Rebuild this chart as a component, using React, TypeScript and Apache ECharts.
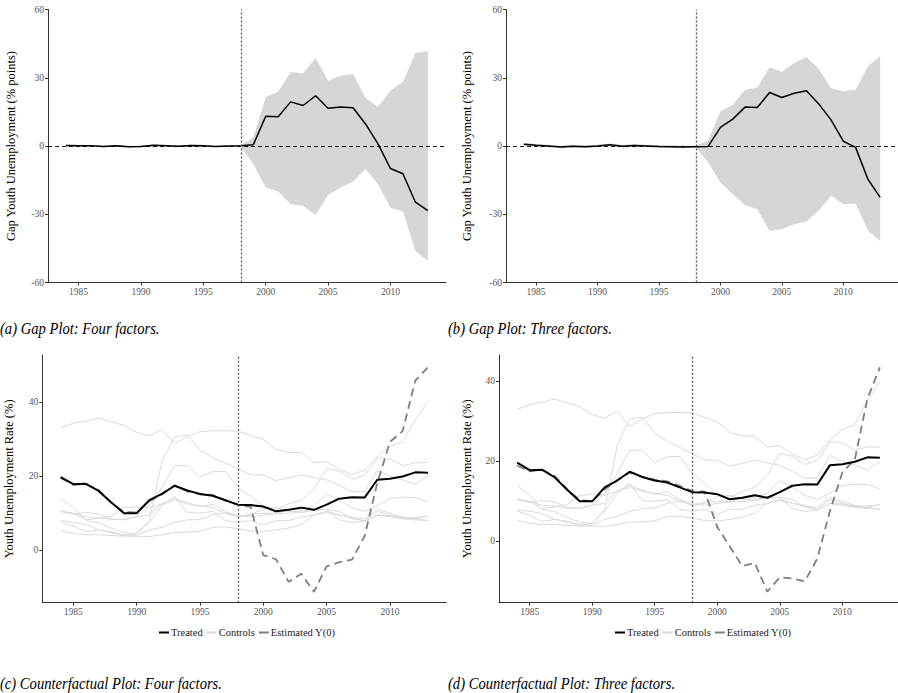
import React, { useEffect, useRef } from "react";
import * as echarts from "echarts";

const years = [1984, 1985, 1986, 1987, 1988, 1989, 1990, 1991, 1992, 1993, 1994, 1995, 1996, 1997, 1998, 1999, 2000, 2001, 2002, 2003, 2004, 2005, 2006, 2007, 2008, 2009, 2010, 2011, 2012, 2013];
const yearTicks = [1985, 1990, 1995, 2000, 2005, 2010];
const gapTicks = [-60, -30, 0, 30, 60];
const rateTicks = [0, 20, 40];

// Panel (a): four factors
const gapA = [0.2, 0.1, 0.1, -0.2, 0.1, -0.3, -0.2, 0.3, 0.1, -0.1, 0.2, 0.1, -0.2, 0.0, 0.1, 0.5, 13.1, 12.9, 19.4, 17.8, 22.1, 16.6, 17.1, 16.8, 9.7, 0.9, -9.9, -12.2, -24.7, -28.4];
const upperA = [0.6, 0.5, 0.5, 0.2, 0.5, 0.1, 0.2, 0.7, 0.5, 0.3, 0.6, 0.5, 0.2, 0.4, 0.3, 3.8, 21.5, 23.8, 32.5, 31.9, 38.8, 28.7, 30.9, 31.6, 21.2, 17.1, 24.4, 28.1, 40.9, 41.8];
const lowerA = [-0.2, -0.3, -0.3, -0.6, -0.3, -0.7, -0.6, -0.1, -0.3, -0.5, -0.2, -0.3, -0.6, -0.4, -0.3, -7.9, -18.2, -20.0, -25.6, -26.3, -30.4, -21.5, -18.2, -15.7, -10.1, -16.8, -27.1, -28.8, -46.2, -50.6];

// Panel (b): three factors
const gapB = [0.8, 0.3, 0.0, -0.4, -0.1, -0.3, 0.0, 0.5, -0.1, 0.2, 0.0, -0.2, -0.3, -0.4, -0.3, -0.2, 8.2, 11.8, 17.1, 16.9, 23.5, 21.3, 23.2, 24.3, 18.5, 11.5, 2.1, -0.6, -14.6, -22.6];
const upperB = [1.4, 0.9, 0.6, 0.2, 0.5, 0.3, 0.6, 1.1, 0.5, 0.8, 0.6, 0.4, 0.3, 0.2, 0.2, 2.4, 15.3, 18.1, 24.7, 25.6, 34.7, 32.5, 36.5, 39.1, 34.0, 25.4, 24.1, 24.7, 35.1, 39.4];
const lowerB = [0.2, -0.3, -0.6, -1.0, -0.7, -0.9, -0.6, -0.1, -0.7, -0.4, -0.6, -0.8, -0.9, -1.0, -0.6, -7.2, -16.0, -21.2, -25.9, -27.8, -37.4, -36.6, -34.4, -33.2, -28.5, -21.9, -25.6, -25.3, -37.1, -41.8];

// Panels (c) and (d)
const treated = [19.7, 17.8, 17.9, 16.0, 12.9, 10.0, 10.0, 13.5, 15.2, 17.4, 16.1, 15.2, 14.7, 13.5, 12.3, 12.2, 11.8, 10.5, 10.9, 11.5, 10.9, 12.3, 13.9, 14.3, 14.2, 19.0, 19.3, 19.9, 21.0, 20.9];
const y0Four = [19.5, 17.7, 17.8, 16.2, 12.8, 10.3, 10.2, 13.2, 15.1, 17.5, 15.9, 15.1, 14.9, 13.5, 12.2, 11.7, -1.3, -2.4, -8.5, -6.3, -11.2, -4.3, -3.2, -2.5, 3.8, 18.1, 29.2, 32.1, 45.7, 49.3];
const y0Three = [18.9, 17.5, 17.9, 16.4, 13.0, 10.3, 10.0, 13.0, 15.3, 17.2, 16.1, 15.4, 15.0, 13.9, 12.6, 12.4, 3.6, -1.3, -6.2, -5.4, -12.6, -9.0, -9.3, -10.0, -4.3, 7.5, 17.2, 20.5, 35.6, 43.5];

const control1 = [33.0, 34.2, 34.8, 35.6, 34.6, 33.7, 31.7, 30.8, 32.6, 28.8, 30.6, 32.0, 32.2, 32.2, 32.1, 31.0, 29.9, 27.2, 26.4, 26.3, 23.6, 23.9, 21.8, 20.4, 21.6, 25.4, 28.0, 29.2, 35.2, 40.0];
const control2 = [14.0, 11.5, 8.0, 7.4, 6.0, 4.8, 4.5, 8.0, 24.0, 30.6, 31.0, 27.0, 25.0, 23.5, 22.0, 20.3, 20.3, 18.8, 19.5, 20.3, 19.6, 19.0, 17.5, 15.8, 15.8, 21.5, 20.0, 19.0, 17.8, 20.0];
const control3 = [10.6, 9.9, 9.0, 8.8, 8.3, 8.3, 9.0, 12.0, 17.0, 22.8, 22.8, 19.7, 21.2, 21.2, 17.0, 14.5, 11.8, 11.0, 12.5, 13.5, 16.5, 22.0, 21.3, 19.2, 20.2, 24.9, 24.7, 22.8, 23.6, 23.6];
const control4 = [10.6, 10.0, 8.2, 8.6, 9.2, 11.5, 11.7, 11.5, 12.5, 14.0, 12.8, 11.8, 12.4, 10.5, 9.0, 9.8, 10.0, 10.0, 10.8, 11.0, 12.0, 15.2, 13.5, 11.5, 10.5, 12.0, 14.0, 14.3, 14.2, 13.1];
const control5 = [8.0, 7.5, 7.0, 5.5, 4.8, 4.0, 4.5, 7.5, 12.0, 14.5, 10.2, 10.0, 10.5, 8.0, 7.5, 8.0, 6.8, 8.0, 8.0, 9.0, 9.5, 10.2, 9.5, 8.8, 8.5, 11.0, 10.0, 9.0, 8.5, 9.2];
const control6 = [7.6, 6.5, 5.0, 5.5, 5.0, 4.2, 4.0, 5.5, 6.2, 7.5, 8.2, 8.3, 9.5, 10.2, 9.5, 9.0, 9.5, 9.8, 10.0, 10.2, 10.8, 11.0, 8.2, 7.5, 7.8, 9.5, 9.3, 8.7, 8.5, 8.0];
const control7 = [10.4, 9.8, 10.2, 9.8, 8.5, 8.2, 9.0, 9.5, 12.5, 13.5, 12.5, 12.0, 11.5, 10.0, 9.0, 9.5, 11.2, 11.5, 10.5, 10.5, 11.0, 11.0, 10.5, 8.5, 8.0, 10.5, 9.5, 8.8, 8.8, 9.2];
const control8 = [5.2, 4.5, 4.2, 4.2, 4.0, 3.8, 3.8, 3.7, 4.2, 4.8, 4.9, 5.1, 6.2, 6.3, 5.8, 5.2, 5.1, 5.5, 6.0, 7.0, 9.5, 10.5, 9.5, 9.0, 7.8, 9.5, 9.0, 8.5, 8.2, 8.0];
const controls = [control1, control2, control3, control4, control5, control6, control7, control8];

const captions = [
  "(a) Gap Plot: Four factors.",
  "(b) Gap Plot: Three factors.",
  "(c) Counterfactual Plot: Four factors.",
  "(d) Counterfactual Plot: Three factors.",
];
const gapTitle = "Gap Youth Unemployment (% points)";
const rateTitle = "Youth Unemployment Rate (%)";

const FONT = "Liberation Serif";
const pts = (vals: number[]) => years.map((y, i) => [y, vals[i]]);

function xAxisCfg(gridIndex: number) {
  return {
    type: "value",
    gridIndex,
    min: 1982.55,
    max: 2014.45,
    axisLine: { onZero: false, lineStyle: { color: "#333", width: 1 } },
    axisTick: { show: true, length: 3, customValues: yearTicks, lineStyle: { color: "#333" } },
    axisLabel: {
      customValues: yearTicks,
      formatter: (v: number) => String(v),
      fontSize: 9.5,
      color: "#555",
      fontFamily: FONT,
      margin: 4,
    },
    splitLine: { show: false },
  };
}

function yAxisCfg(gridIndex: number, min: number, max: number, ticks: number[], name: string, gap: number) {
  return {
    type: "value",
    gridIndex,
    min,
    max,
    name,
    nameLocation: "middle",
    nameRotate: 90,
    nameGap: gap,
    nameTextStyle: { fontSize: 12.5, color: "#000", fontFamily: FONT },
    axisLine: { show: true, onZero: false, lineStyle: { color: "#333", width: 1 } },
    axisTick: { show: true, length: 3, customValues: ticks, lineStyle: { color: "#333" } },
    axisLabel: { customValues: ticks, fontSize: 9.5, color: "#555", fontFamily: FONT, margin: 4 },
    splitLine: { show: false },
  };
}

function gapSeries(k: number, gap: number[], upper: number[], lower: number[]) {
  return [
    {
      type: "custom",
      xAxisIndex: k,
      yAxisIndex: k,
      data: pts(upper),
      encode: { x: 0, y: 1 },
      silent: true,
      clip: true,
      z: 1,
      renderItem: (params: any, api: any) => {
        if (params.dataIndex !== 0) return null;
        const top = years.map((y, i) => api.coord([y, upper[i]]));
        const bot = years.map((y, i) => api.coord([y, lower[i]])).reverse();
        return {
          type: "polygon",
          shape: { points: top.concat(bot) },
          style: { fill: "#d6d6d6", stroke: "none" },
        };
      },
    },
    {
      type: "line",
      xAxisIndex: k,
      yAxisIndex: k,
      data: pts(gap),
      symbol: "none",
      lineStyle: { color: "#000", width: 1.5 },
      z: 3,
      markLine: {
        symbol: "none",
        silent: true,
        label: { show: false },
        data: [
          { yAxis: 0, lineStyle: { color: "#000", type: [4, 3], width: 0.9 } },
          { xAxis: 1998, lineStyle: { color: "#555", type: [2, 2], width: 1.3 } },
        ],
      },
    },
  ];
}

function cfSeries(k: number, y0: number[]) {
  const s: any[] = controls.map((c) => ({
    type: "line",
    name: "Controls",
    xAxisIndex: k,
    yAxisIndex: k,
    data: pts(c),
    symbol: "none",
    lineStyle: { color: "#dadada", width: 1 },
    itemStyle: { color: "#dadada" },
    z: 1,
  }));
  s.push({
    type: "line",
    name: "Estimated Y(0)",
    xAxisIndex: k,
    yAxisIndex: k,
    data: pts(y0),
    symbol: "none",
    lineStyle: { color: "#7f7f7f", width: 1.8, type: [8, 5] },
    itemStyle: { color: "#7f7f7f" },
    z: 2,
  });
  s.push({
    type: "line",
    name: "Treated",
    xAxisIndex: k,
    yAxisIndex: k,
    data: pts(treated),
    symbol: "none",
    lineStyle: { color: "#000", width: 2 },
    itemStyle: { color: "#000" },
    z: 3,
    markLine: {
      symbol: "none",
      silent: true,
      label: { show: false },
      data: [{ xAxis: 1998, lineStyle: { color: "#555", type: [2, 2], width: 1.3 } }],
    },
  });
  return s;
}

function legendCfg(left: number) {
  return {
    left,
    top: 627,
    itemWidth: 10,
    itemHeight: 2,
    itemGap: 4,
    padding: 0,
    textStyle: { fontSize: 10.5, color: "#222", fontFamily: FONT, padding: [0, 0, 0, -3] },
    data: [
      { name: "Treated", icon: "rect", itemStyle: { color: "#000" } },
      { name: "Controls", icon: "rect", itemStyle: { color: "#dadada" } },
      { name: "Estimated Y(0)", icon: "rect", itemStyle: { color: "#7f7f7f" } },
    ],
    selectedMode: false,
  };
}

function captionCfg(text: string, x: number, y: number) {
  return {
    type: "text",
    x,
    y,
    scaleX: 0.86,
    silent: true,
    style: {
      text,
      fontFamily: FONT,
      fontStyle: "italic",
      fontSize: 17,
      fill: "#000",
      verticalAlign: "middle",
    },
  };
}

export default function App() {
  const ref = useRef<HTMLDivElement>(null);
  useEffect(() => {
    if (!ref.current) return;
    const chart = echarts.init(ref.current, null, { renderer: "svg" });
    const option: any = {
      animation: false,
      backgroundColor: "#fff",
      textStyle: { fontFamily: FONT },
      grid: [
        { left: 48, top: 9.5, width: 398, height: 273 },
        { left: 506, top: 9.5, width: 399, height: 273 },
        { left: 42.3, top: 355, width: 404, height: 247.7 },
        { left: 499, top: 355, width: 403, height: 247.7 },
      ],
      xAxis: [xAxisCfg(0), xAxisCfg(1), xAxisCfg(2), xAxisCfg(3)],
      yAxis: [
        yAxisCfg(0, -60, 60, gapTicks, gapTitle, 31),
        yAxisCfg(1, -60, 60, gapTicks, gapTitle, 33),
        yAxisCfg(2, -14.1, 52.6, rateTicks, rateTitle, 27),
        yAxisCfg(3, -15.35, 46.6, rateTicks, rateTitle, 26),
      ],
      legend: [legendCfg(159), legendCfg(615)],
      series: [
        ...gapSeries(0, gapA, upperA, lowerA),
        ...gapSeries(1, gapB, upperB, lowerB),
        ...cfSeries(2, y0Four),
        ...cfSeries(3, y0Three),
      ],
      graphic: [
        captionCfg(captions[0], 0, 328),
        captionCfg(captions[1], 448, 328),
        captionCfg(captions[2], 0, 683),
        captionCfg(captions[3], 448, 683),
      ],
    };
    chart.setOption(option);
    return () => chart.dispose();
  }, []);
  return (
    <div
      ref={ref}
      style={{ position: "absolute", left: 0, top: 0, width: 898, height: 693, overflow: "hidden" }}
    />
  );
}
